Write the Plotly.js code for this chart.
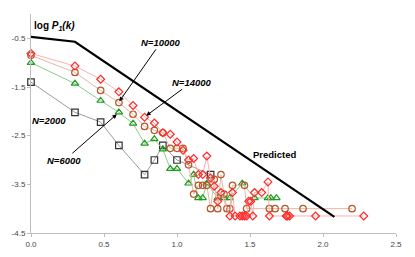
<!DOCTYPE html>
<html>
<head>
<meta charset="utf-8">
<script src="https://cdn.plot.ly/plotly-3.0.1.min.js"></script>
<style>html,body{margin:0;padding:0;background:#fff;}#chart{width:415px;height:257px;}</style>
</head>
<body>
<div id="chart"></div>
<script>
// log k (x) and log P1(k) (y) for each network size
var x2000 = [0, 0.301, 0.477, 0.602, 0.778, 0.845, 0.903, 1.0, 1.230];
var y2000 = [-1.40, -2.02, -2.22, -2.70, -3.30, -3.00, -2.70, -3.00, -3.30];

var x6000 = [0, 0.301, 0.477, 0.602, 0.699, 0.778, 0.845, 0.903, 0.954, 1.0, 1.079, 1.114, 1.146, 1.176, 1.204, 1.279, 1.322, 1.362, 1.447, 1.531, 1.623, 1.643, 1.681];
var y6000 = [-1.00, -1.43, -1.78, -2.02, -2.25, -2.66, -2.57, -2.78, -3.18, -3.18, -3.48, -3.30, -3.78, -3.78, -3.48, -3.78, -3.78, -3.78, -3.48, -3.78, -3.78, -3.78, -3.78];

var x10000 = [0, 0.301, 0.477, 0.602, 0.699, 0.778, 0.845, 0.903, 0.954, 1.0, 1.041, 1.079, 1.114, 1.146, 1.176, 1.204, 1.230, 1.255, 1.279, 1.301, 1.322, 1.342, 1.362, 1.380, 1.462, 1.477, 1.633, 1.672, 1.740, 1.863, 2.199];
var y10000 = [-0.85, -1.20, -1.57, -1.82, -2.06, -2.31, -2.39, -2.44, -2.76, -2.76, -2.76, -3.10, -3.70, -3.52, -3.52, -3.52, -4.00, -3.40, -4.00, -3.30, -3.70, -4.00, -4.00, -3.52, -3.52, -4.00, -4.00, -4.00, -4.00, -4.00, -4.00];

var x14000 = [0, 0.301, 0.477, 0.602, 0.699, 0.778, 0.845, 0.903, 0.954, 1.0, 1.041, 1.079, 1.114, 1.146, 1.176, 1.204, 1.230, 1.255, 1.279, 1.301, 1.362, 1.380, 1.398, 1.431, 1.447, 1.462, 1.477, 1.491, 1.505, 1.519, 1.531, 1.580, 1.623, 1.633, 1.748, 1.756, 1.771, 1.949, 2.279];
var y14000 = [-0.81, -1.07, -1.34, -1.60, -1.88, -2.12, -2.24, -2.44, -2.47, -2.63, -2.80, -3.00, -2.97, -3.30, -3.30, -2.92, -3.37, -3.54, -3.85, -3.67, -4.15, -3.67, -4.15, -4.15, -4.15, -4.15, -4.15, -3.85, -3.85, -4.15, -3.67, -3.67, -3.45, -4.15, -4.15, -4.15, -4.15, -4.15, -4.15];

var xPred = [0, 0.301, 2.078];
var yPred = [-0.47, -0.57, -4.17];

var xTickVals = [0, 0.5, 1.0, 1.5, 2.0, 2.5];
var xTickText = ['0.0', '0.5', '1.0', '1.5', '2.0', '2.5'];
var yTickVals = [-0.5, -1.5, -2.5, -3.5, -4.5];
var yTickText = ['-0.5', '-1.5', '-2.5', '-3.5', '-4.5'];

var FONT = 'Arial, "Liberation Sans", sans-serif';

function series(x, y, sym, size, mcol, lcol) {
  return {
    x: x, y: y, type: 'scatter', mode: 'lines+markers',
    line: {color: lcol, width: 1},
    marker: {symbol: sym, size: size, color: mcol, line: {color: mcol, width: 1.2}},
    cliponaxis: false, showlegend: false, hoverinfo: 'skip'
  };
}

var traces = [
  series(x2000, y2000, 'square-open', 6.5, '#333333', '#9a9a9a'),
  series(x6000, y6000, 'triangle-up-open', 6.5, '#1e9a1e', '#8ccc8c'),
  series(x10000, y10000, 'circle-open', 6.5, '#b5562a', '#e4b8a4'),
  series(x14000, y14000, 'diamond-open', 6, '#ff2a2a', '#ffb0b0'),
  {x: xPred, y: yPred, type: 'scatter', mode: 'lines', line: {color: '#000', width: 2.2},
   showlegend: false, hoverinfo: 'skip', cliponaxis: false}
];

var labFont = {family: FONT, size: 9.5, color: '#000'};

var layout = {
  width: 415, height: 257,
  margin: {l: 31, r: 19, t: 14, b: 24},
  paper_bgcolor: '#fff', plot_bgcolor: '#fff',
  showlegend: false,
  xaxis: {
    range: [0, 2.5], tickvals: xTickVals, ticktext: xTickText,
    showline: true, linecolor: '#bdbdbd', linewidth: 1,
    ticks: 'outside', ticklen: 3, tickcolor: '#bdbdbd',
    showgrid: false, zeroline: false,
    tickfont: {family: FONT, size: 8, color: '#444'}
  },
  yaxis: {
    range: [-4.5, 0], tickvals: yTickVals, ticktext: yTickText,
    showline: true, linecolor: '#bdbdbd', linewidth: 1,
    ticks: 'outside', ticklen: 3, tickcolor: '#bdbdbd',
    showgrid: false, zeroline: false,
    tickfont: {family: FONT, size: 8, color: '#444'}
  },
  annotations: [
    {x: 0.01, y: -0.24, xref: 'x', yref: 'y', xanchor: 'left', yanchor: 'middle', showarrow: false,
     text: '<b>log <i>P</i><sub><i>1</i></sub><i>(k)</i></b>', font: {family: FONT, size: 10, color: '#000'}},
    {x: 2.23, y: -4.68, xref: 'x', yref: 'y', xanchor: 'center', yanchor: 'middle', showarrow: false,
     text: '<b>log <i>k</i></b>', font: {family: FONT, size: 10, color: '#000'}},
    {x: 1.671, y: -2.885, xref: 'x', yref: 'y', showarrow: false,
     text: '<b>Predicted</b>', font: labFont},
    {x: 0.12, y: -2.18, xref: 'x', yref: 'y', showarrow: false,
     text: '<b><i>N=2000</i></b>', font: labFont},
    {x: 0.605, y: -1.795, xref: 'x', yref: 'y', showarrow: true, ax: 41.5, ay: -59,
     arrowhead: 2, arrowsize: 0.9, arrowwidth: 1, arrowcolor: '#000',
     text: '<b><i>N=10000</i></b>', font: labFont},
    {x: 0.789, y: -2.09, xref: 'x', yref: 'y', showarrow: true, ax: 45.5, ay: -33.5,
     arrowhead: 2, arrowsize: 0.9, arrowwidth: 1, arrowcolor: '#000',
     text: '<b><i>N=14000</i></b>', font: labFont},
    {x: 0.588, y: -2.06, xref: 'x', yref: 'y', showarrow: true, ax: -52.5, ay: 46,
     arrowhead: 2, arrowsize: 0.9, arrowwidth: 1, arrowcolor: '#000',
     text: '<b><i>N=6000</i></b>', font: labFont}
  ]
};

Plotly.newPlot('chart', traces, layout, {displayModeBar: false, staticPlot: true});
</script>
</body>
</html>
